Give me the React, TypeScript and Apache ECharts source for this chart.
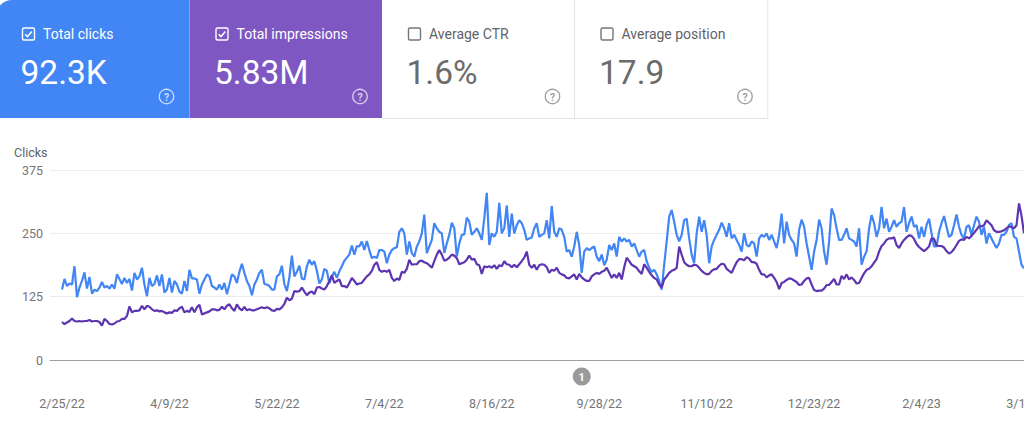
import React, { useEffect, useRef } from "react";
import * as echarts from "echarts";

// ---------- data ----------
const tickLabels = ["2/25/22", "4/9/22", "5/22/22", "7/4/22", "8/16/22", "9/28/22", "11/10/22", "12/23/22", "2/4/23", "3/19/23", "5/1/23"];
const daysPerTick = 43;
const annotationDay = 208;
const annotationLabel = "1";

// daily clicks, from 2/25/22 (day 0)
const clicksSpring = [
  139, 160, 146, 151, 149, 185, 124, 143, 156, 173,
  141, 164, 131, 139, 136, 143, 154, 143, 146, 141,
  149, 141, 169, 160, 150, 162, 152, 160, 137, 172,
  159, 165, 182, 149, 126, 162, 146, 150, 167, 146,
  169, 133, 139, 162, 133, 156, 149, 135, 131, 156,
  136, 178, 161, 161, 159, 131, 149, 159, 169, 165,
  146, 143, 139, 149, 139, 152, 130, 149, 169, 165,
  152, 174, 190, 172, 156, 146, 128, 149, 159, 172,
  178, 150, 149, 146, 139, 139, 165, 169, 186, 150,
  136, 163, 206, 165, 174, 186, 161, 159, 185, 198,
  188, 195, 176, 151, 159, 180, 176, 151, 165, 174,
  162, 175, 185, 196, 202, 208, 226, 208, 225, 224,
  234, 217, 235, 217, 201,
];
const clicksSummer = [
  204, 201, 217, 217, 214, 191, 208, 217, 221, 222,
  253, 260, 250, 208, 234, 211, 204, 224, 234, 250,
  287, 211, 224, 237, 270, 260, 253, 250, 211, 230,
  247, 271, 260, 204, 230, 247, 248, 281, 273, 247,
  253, 260, 250, 237, 279, 330, 227, 250, 243, 253,
  310, 250, 260, 305, 243, 289, 250, 266, 276, 270,
  257, 237, 240, 242, 260, 270, 243, 247, 250, 276,
  240, 304, 253, 243, 260, 257, 243, 214, 217, 204,
  224, 253, 227, 172, 214, 221, 217, 221, 224, 204,
  195, 208, 187, 198, 227, 217, 230, 204, 243, 234,
  240, 234, 237, 224, 230, 217, 204, 214, 217, 195,
  182, 174, 178, 169, 156, 139, 188, 234, 283, 296,
  273, 247, 234, 247, 276, 279, 240, 208,
];
const clicksWinter = [
  191, 250, 283, 253, 276, 247, 191, 224, 237, 247,
  257, 271, 260, 243, 270, 240, 247, 237, 227, 214,
  250, 227, 224, 234, 230, 204, 240, 247, 243, 250,
  237, 247, 234, 221, 247, 289, 230, 273, 247, 237,
  230, 204, 257, 277, 263, 230, 204, 178, 214, 237,
  277, 260, 214, 188, 234, 299, 286, 260, 237, 237,
  247, 260, 240, 237, 234, 224, 260, 188, 204, 214,
  260, 286, 270, 243, 260, 302, 260, 279, 253, 263,
  276, 263, 270, 273, 302, 253, 270, 283, 263, 266,
  240, 263, 243, 266, 279, 250, 224, 224, 253, 270,
  284, 263, 243, 247, 266, 287, 263, 247, 240, 263,
  266, 247, 266, 283, 273, 247, 263, 230, 250, 240,
  230, 221, 230, 247, 247, 253, 266, 270, 243, 240,
  214, 188, 181,
];

// daily impressions, in hundreds
const impressionsSpring = [
  75, 71, 74, 77, 82, 77, 76, 77, 76, 77,
  77, 79, 76, 77, 77, 75, 68, 81, 77, 71,
  70, 72, 76, 77, 81, 81, 87, 106, 94, 97,
  97, 98, 107, 100, 107, 105, 100, 97, 98, 96,
  97, 94, 92, 94, 93, 98, 97, 102, 105, 94,
  97, 95, 104, 94, 104, 109, 90, 92, 94, 96,
  100, 100, 98, 99, 105, 100, 107, 110, 102, 97,
  110, 102, 98, 105, 98, 100, 98, 98, 100, 102,
  104, 102, 104, 102, 98, 97, 101, 100, 104, 111,
  123, 118, 121, 136, 135, 136, 143, 135, 128, 133,
  135, 130, 143, 144, 141, 139, 146, 156, 167, 152,
  156, 159, 146, 146, 143, 152, 162, 156, 149, 151,
  152, 159, 165, 169, 176,
];
const impressionsSummer = [
  188, 193, 178, 174, 176, 174, 178, 162, 156, 161,
  158, 174, 172, 180, 198, 188, 189, 189, 195, 196,
  193, 191, 187, 182, 195, 208, 217, 208, 196, 198,
  202, 208, 206, 201, 189, 191, 193, 198, 206, 198,
  200, 189, 187, 170, 185, 183, 185, 182, 187, 180,
  187, 185, 195, 189, 188, 183, 188, 183, 189, 195,
  202, 214, 188, 182, 188, 178, 187, 189, 188, 183,
  172, 178, 176, 182, 172, 169, 167, 162, 161, 165,
  169, 159, 170, 163, 159, 156, 156, 165, 169, 172,
  170, 174, 176, 182, 172, 162, 169, 162, 172, 159,
  183, 202, 195, 188, 185, 182, 175, 170, 189, 182,
  174, 167, 162, 159, 149, 143, 159, 165, 172, 176,
  178, 182, 224, 208, 193, 188, 185, 185, 188,
];
const impressionsWinter = [
  187, 182, 176, 172, 169, 170, 176, 179, 180, 186,
  190, 189, 180, 176, 172, 183, 193, 199, 199, 197,
  203, 200, 193, 193, 190, 178, 169, 169, 163, 167,
  169, 162, 154, 140, 152, 154, 158, 161, 160, 157,
  154, 148, 149, 156, 161, 162, 149, 138, 136, 137,
  137, 141, 148, 148, 154, 160, 149, 149, 166, 160,
  169, 159, 163, 158, 151, 152, 162, 171, 178, 180,
  185, 192, 199, 214, 225, 230, 237, 240, 240, 242,
  227, 221, 230, 237, 242, 246, 245, 239, 229, 223,
  219, 215, 219, 224, 240, 239, 226, 225, 225, 222,
  215, 210, 213, 219, 227, 235, 238, 237, 243, 240,
  245, 251, 257, 264, 264, 266, 276, 271, 266, 256,
  253, 253, 254, 256, 260, 264, 262, 260, 266, 309,
  285, 250,
];

const cardLabels = ["Total clicks", "Total impressions", "Average CTR", "Average position"];
const cardValues = ["92.3K", "5.83M", "1.6%", "17.9"];
const cardChecked = [true, true, false, false];
const cardColors = ["#4285f4", "#7e57c2", "#ffffff", "#ffffff"];

const clicks = [...clicksSpring, ...clicksSummer, ...clicksWinter];
const impressions = [...impressionsSpring, ...impressionsSummer, ...impressionsWinter];

// ---------- layout ----------
const FONT = "Roboto, 'Noto Sans', Arial, sans-serif";
const PX_PER_DAY = 2.4987;
const X_MIN = -4.8;
const X_MAX = 432;
const GRID_LEFT = 50;
const GRID_TOP = 170;
const GRID_H = 190;
const GRID_W = (X_MAX - X_MIN) * PX_PER_DAY;
const CARD_LEFTS = [-4, 189.5, 382, 574.5];
const CARD_W = 193.3;
const CARD_H = 118;

function textEl(id: string, x: number, y: number, text: string, fontSize: number, fill: string, align = "left", weight = "normal") {
  return {
    id,
    type: "text",
    x,
    y,
    silent: true,
    style: {
      text,
      fill,
      fontSize,
      fontFamily: FONT,
      fontWeight: weight,
      align,
      textAlign: align,
      verticalAlign: "middle",
      textVerticalAlign: "middle",
    },
  };
}

function cardElements() {
  const els: any[] = [];
  cardLabels.forEach((label, i) => {
    const L = CARD_LEFTS[i];
    const checked = cardChecked[i];
    const fg = checked ? "#ffffff" : "#5f6368";
    const valueFg = checked ? "#ffffff" : "#6b6b6b";
    els.push({
      id: `card-bg-${i}`,
      type: "rect",
      silent: true,
      shape: { x: L, y: 0, width: CARD_W, height: CARD_H, r: i === 0 ? [16, 0, 0, 0] : 0 },
      style: { fill: cardColors[i] },
    });
    const bx = L + 26.5;
    els.push({
      id: `card-box-${i}`,
      type: "rect",
      silent: true,
      shape: { x: bx, y: 28, width: 12, height: 12, r: 1.5 },
      style: { fill: "none", stroke: checked ? "#ffffff" : "#757575", lineWidth: 1.4 },
    });
    if (checked) {
      els.push({
        id: `card-check-${i}`,
        type: "polyline",
        silent: true,
        shape: { points: [[bx + 2.6, 34.2], [bx + 5, 36.6], [bx + 9.4, 31.4]] },
        style: { fill: "none", stroke: "#ffffff", lineWidth: 1.5 },
      });
    }
    els.push(textEl(`card-label-${i}`, L + 47, 34.3, label, 14, fg));
    els.push(textEl(`card-value-${i}`, L + 24.5, 72.5, cardValues[i], 33.5, valueFg));
    const hx = L + 170.5;
    const helpColor = checked ? "rgba(255,255,255,0.72)" : "#9e9e9e";
    els.push({
      id: `card-help-${i}`,
      type: "circle",
      silent: true,
      shape: { cx: hx, cy: 96.5, r: 7.2 },
      style: { fill: "none", stroke: helpColor, lineWidth: 1.3 },
    });
    els.push(textEl(`card-help-q-${i}`, hx, 97, "?", 10.5, helpColor, "center", "bold"));
  });
  // borders of the white cards
  els.push({ id: "border-mid", type: "line", silent: true, shape: { x1: 574.5, y1: 0, x2: 574.5, y2: CARD_H }, style: { stroke: "#e3e3e3", lineWidth: 1 } });
  els.push({ id: "border-right", type: "line", silent: true, shape: { x1: 767.8, y1: 0, x2: 767.8, y2: CARD_H }, style: { stroke: "#e3e3e3", lineWidth: 1 } });
  els.push({ id: "border-bottom", type: "line", silent: true, shape: { x1: 382, y1: CARD_H + 0.5, x2: 768, y2: CARD_H + 0.5 }, style: { stroke: "#e3e3e3", lineWidth: 1 } });
  els.push(textEl("y-name", 14, 152, "Clicks", 12.5, "#5f6368"));
  return els;
}

export default function App() {
  const ref = useRef<HTMLDivElement>(null);

  useEffect(() => {
    if (!ref.current) return;
    const chart = echarts.init(ref.current, null, { renderer: "svg" });
    const option: any = {
      animation: false,
      backgroundColor: "#ffffff",
      grid: { left: GRID_LEFT, top: GRID_TOP, width: GRID_W, height: GRID_H, containLabel: false },
      xAxis: {
        type: "value",
        min: X_MIN,
        max: X_MAX,
        axisLine: { show: true, onZero: true, lineStyle: { color: "#9e9e9e", width: 1 } },
        axisTick: { show: false },
        splitLine: { show: false },
        axisLabel: {
          customValues: tickLabels.map((_, i) => i * daysPerTick),
          formatter: (v: number) => tickLabels[Math.round(v / daysPerTick)] ?? "",
          color: "#757575",
          fontSize: 12.5,
          fontFamily: FONT,
          margin: 37,
        },
      },
      yAxis: [
        {
          type: "value",
          min: 0,
          max: 375,
          interval: 125,
          axisLine: { show: false },
          axisTick: { show: false },
          splitLine: { show: true, lineStyle: { color: "#ececec", width: 1 } },
          axisLabel: { color: "#757575", fontSize: 12.5, fontFamily: FONT, margin: 7 },
        },
        { type: "value", min: 0, max: 375, show: false, splitLine: { show: false } },
      ],
      series: [
        {
          name: "Clicks",
          type: "line",
          yAxisIndex: 0,
          showSymbol: false,
          symbol: "none",
          data: clicks.map((v, i) => [i, v]),
          lineStyle: { color: "#4285f4", width: 2.2 },
          itemStyle: { color: "#4285f4" },
          z: 2,
        },
        {
          name: "Impressions",
          type: "line",
          yAxisIndex: 1,
          showSymbol: false,
          symbol: "none",
          data: impressions.map((v, i) => [i, v]),
          lineStyle: { color: "#5e35b1", width: 2.2 },
          itemStyle: { color: "#5e35b1" },
          z: 3,
        },
      ],
      graphic: { elements: cardElements() },
    };
    chart.setOption(option);
    const ax = chart.convertToPixel({ xAxisIndex: 0 }, annotationDay) as number;
    chart.setOption({
      graphic: {
        elements: [
          { id: "ann-circle", type: "circle", silent: true, shape: { cx: ax, cy: 376.5, r: 9 }, style: { fill: "#9a9a9a" } },
          textEl("ann-text", ax, 377, annotationLabel, 11, "#ffffff", "center", "bold"),
        ],
      },
    });
    return () => chart.dispose();
  }, []);

  return (
    <div style={{ position: "absolute", left: 0, top: 0, width: 1024, height: 437, overflow: "hidden", background: "#ffffff" }}>
      <div ref={ref} style={{ width: 1200, height: 437 }} />
    </div>
  );
}
